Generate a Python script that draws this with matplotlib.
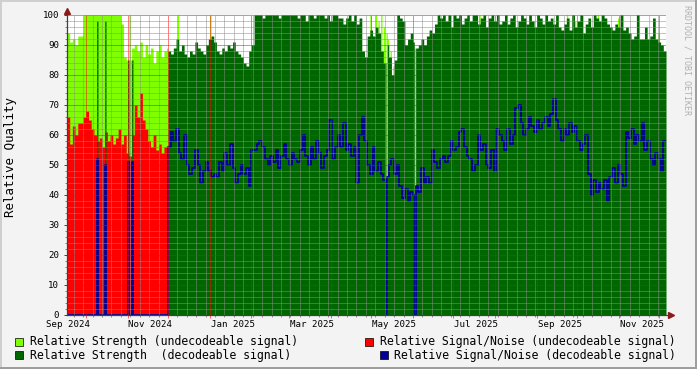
import numpy as np
import matplotlib
matplotlib.use("Agg")
import matplotlib.pyplot as plt
import matplotlib.dates as mdates
from matplotlib.ticker import MultipleLocator, NullFormatter
from matplotlib.patches import Rectangle
from matplotlib.lines import Line2D

plt.rcParams['font.family'] = ['DejaVu Sans Mono']

start = np.datetime64('2024-09-17')
n_days = 445
split = 75  # 2024-12-01, first day with decodeable signal

# two-day samples, 2024-09-17 .. 2024-11-30 (undecodeable period)
strength_undec = [94, 91, 92, 90, 93, 93,
                  100, 100, 100, 100, 100, 100, 100, 100, 100, 100, 100, 100, 100, 100,
                  97, 86, 85, 85, 89, 90, 88, 91, 86, 90, 87, 89, 84, 88, 90, 86, 88, 89]
snr_undec = [66, 57, 63, 60, 64, 64, 66, 68, 65, 62, 60, 58, 59, 56, 61, 58, 60, 57, 59,
             62, 57, 60, 54, 53, 60, 70, 66, 74, 65, 62, 58, 56, 60, 55, 57, 54, 56, 55]

# two-day samples, 2024-12-01 .. 2025-12-04 (decodeable period)
strength_dec = [88, 87, 89, 92, 88, 90, 87, 86, 88, 87, 91, 89, 88, 87, 90, 92, 93, 91, 88, 87,
                89, 88, 90, 89, 91, 88, 87, 86, 84, 83, 88, 90,
                100, 100, 100, 99, 100, 100, 100, 100, 100, 99, 100, 100, 100, 100, 100, 100,
                99, 100, 100, 98, 100, 100, 99, 100, 100, 100, 99, 100, 98, 100, 100, 99,
                99, 97, 99, 100, 98, 100, 97, 99, 88, 86, 93, 95, 93, 96, 94, 88, 84, 90, 86,
                80, 85, 100, 99, 98, 90, 92, 94, 91, 89, 90, 92, 90, 93, 95, 94,
                97, 100, 99, 100, 98, 100, 96, 100, 99, 100, 97, 99, 100, 98, 100, 100, 97,
                99, 100, 96, 99, 100, 98, 100, 97,
                98, 100, 97, 99, 100, 96, 98, 100, 99, 97, 100, 98, 96, 100, 99, 97, 100, 98,
                99, 97, 100, 96,
                95, 97, 99, 95, 100, 96, 98, 100, 94, 97, 99, 96, 100, 99, 98, 100, 99, 97,
                96, 95, 97, 96, 100, 95, 96, 94, 92, 93, 100, 92, 92, 96, 92, 93, 99, 92, 91,
                90, 88]
snr_dec = [56, 61, 58, 62, 54, 52, 60, 50, 47, 49, 55, 50, 44, 48, 51, 48, 46, 47, 46, 51,
           48, 54, 50, 57, 49, 44, 47, 50, 47, 49, 43, 55, 55, 57, 58,
           56, 52, 50, 53, 51, 55, 49, 53, 57, 52, 50, 54, 52, 51, 55, 60, 53, 50, 56, 52,
           58, 54, 49, 53, 55, 65, 52, 56, 60,
           56, 64, 55, 57, 53, 56, 44, 60, 66, 58, 50, 47, 56, 48, 51,
           47, 45, 46, 50, 52, 47, 50, 43, 39, 42, 38, 41, 40, 43, 41, 49, 44, 46, 44, 55,
           51, 49, 52, 53, 51, 53, 58, 55, 56, 61, 62, 56, 53, 52, 48, 50, 60, 55, 57, 50,
           49, 55, 48, 62, 60,
           58, 55, 62, 57, 60, 69, 70, 64, 60, 62, 66, 63, 61, 65, 62, 64, 66, 63, 67, 72,
           65, 62,
           58, 62, 60, 64, 61, 63, 58, 55, 57, 60, 47, 40, 45, 41, 44, 42, 45, 38, 46, 49,
           44, 50, 47, 43, 61, 59, 62, 57, 60, 58, 64, 55, 58, 52, 50, 54, 52, 48, 58]

# single days that differ from the two-day samples (day number from start)
strength_undec_days = {46: 100, 82: 100, 106: 100, 225: 100, 229: 100, 231: 98, 233: 100,
                       235: 96, 237: 94, 238: 92, 240: 88, 242: 83, 258: 89, 306: 100,
                       371: 100, 377: 98, 394: 100, 409: 99, 439: 94}
strength_dec_days = {22: 98, 28: 98, 45: 85, 48: 85, 237: 0, 258: 0}
snr_dec_days = {22: 52, 28: 50, 45: 51, 48: 51, 237: 0, 258: 0}

labels = ['Relative Strength (undecodeable signal)',
          'Relative Signal/Noise (undecodeable signal)',
          'Relative Strength  (decodeable signal)',
          'Relative Signal/Noise (decodeable signal)']
colors = ['#80ff00', '#ff0000', '#006600', '#000099']


def daily(first, second, extra):
    a = np.repeat(np.asarray(first, float), 2)[:split]
    b = np.repeat(np.asarray(second, float), 2)[:n_days - split]
    v = np.concatenate([a, b])
    for d, val in extra.items():
        v[d] = val
    return np.append(v, v[-1])


zeros_a = [0] * len(strength_undec)
zeros_b = [0] * len(strength_dec)
us = daily(strength_undec, zeros_b, strength_undec_days)
un = daily(snr_undec, zeros_b, {})
ds = daily(zeros_a, strength_dec, strength_dec_days)
dn = daily(zeros_a, snr_dec, snr_dec_days)

t = mdates.date2num(start + np.arange(n_days + 1).astype('timedelta64[D]'))

W, H = 697, 369
fig = plt.figure(figsize=(W / 100, H / 100), dpi=100, facecolor='#f3f3f3')


def fx(x):
    return x / W


def fy(y):
    return 1 - y / H


ax = fig.add_axes([fx(67), fy(315), fx(666) - fx(67), fy(15) - fy(315)])
ax.set_facecolor('white')

ax.fill_between(t, us, step='post', color=colors[0], lw=0, zorder=1)
ax.fill_between(t, un, step='post', color=colors[1], lw=0, zorder=1.1)
ax.fill_between(t, ds, step='post', color=colors[2], lw=0, zorder=1.2)
ax.plot(t, dn, drawstyle='steps-post', color=colors[3], lw=1.3, zorder=1.5)

ax.set_xlim(t[0], t[-1])
ax.set_ylim(0, 100)

ax.xaxis.set_major_locator(mdates.MonthLocator())
ax.xaxis.set_minor_locator(mdates.WeekdayLocator(byweekday=mdates.SU))
ax.xaxis.set_major_formatter(NullFormatter())
ax.yaxis.set_major_locator(MultipleLocator(10))
ax.yaxis.set_minor_locator(MultipleLocator(2))

ax.set_axisbelow(False)
ax.grid(which='major', color=(1, 0, 0, 0.28), lw=0.72, ls=(0, (1, 1)))
ax.grid(which='minor', color=(0.55, 0.55, 0.55, 0.45), lw=0.72, ls=(0, (1, 1)))

ax.tick_params(axis='y', which='major', length=2, width=0.7, color='#404040',
               labelsize=6.6, pad=3.5)
ax.tick_params(axis='y', which='minor', length=1.5, width=0.7, color='#808080')
ax.tick_params(axis='x', which='major', length=2.2, width=0.7, color='#ff6060')
ax.tick_params(axis='x', which='minor', length=1.5, width=0.7, color='#909090')

for s in ['top', 'right']:
    ax.spines[s].set_visible(False)
for s in ['left', 'bottom']:
    ax.spines[s].set_color('#404040')
    ax.spines[s].set_linewidth(0.9)
    ax.spines[s].set_zorder(3)

# axis extensions and arrows
ax.plot([0, 0], [1, 1 + 4 / 300], transform=ax.transAxes, clip_on=False,
        color='#404040', lw=0.72)
ax.plot([1, 1 + 5 / 599], [0, 0], transform=ax.transAxes, clip_on=False,
        color='#404040', lw=0.72)
ax.plot([0], [1 + 4 / 300], marker='^', ms=4.5, color='#8b1a1a',
        transform=ax.transAxes, clip_on=False)
ax.plot([1 + 5 / 599], [0], marker='>', ms=4.5, color='#8b1a1a',
        transform=ax.transAxes, clip_on=False)

# month labels centred inside the month, every second month
xtr = ax.get_xaxis_transform()
for m in np.arange(np.datetime64('2024-09'), np.datetime64('2025-12'), 2):
    d = m.astype('datetime64[D]') + np.timedelta64(17, 'D')
    lab = m.astype(object).strftime('%b %Y')
    ax.text(mdates.date2num(d), -5 / 300, lab, transform=xtr, ha='center', va='top',
            fontsize=6.6, clip_on=False)

fig.text(fx(11), fy(157), 'Relative Quality', rotation=90, ha='center', va='center',
         fontsize=9)

fig.text(fx(687), fy(60), 'RRDTOOL / TOBI OETIKER', rotation=270, ha='center',
         va='center', fontsize=6, color='#b0b0b0')

# legend
legend_pos = [(15, 30, 341.5), (365, 380, 341.5), (15, 30, 355), (379.5, 394.5, 355)]
for i, (bx, tx, cy) in enumerate(legend_pos):
    fig.add_artist(Rectangle((fx(bx), fy(cy + 4)), 8 / W, 8 / H, transform=fig.transFigure,
                             facecolor=colors[i], edgecolor='black', lw=0.5))
    fig.text(fx(tx), fy(cy), labels[i], ha='left', va='center', fontsize=8.3)

# frame shading
fig.add_artist(Line2D([0, 1], [1 - 1 / H, 1 - 1 / H], transform=fig.transFigure,
                      color='#cfcfcf', lw=1.44))
fig.add_artist(Line2D([1 / W, 1 / W], [0, 1], transform=fig.transFigure,
                      color='#cfcfcf', lw=1.44))
fig.add_artist(Line2D([0, 1], [1 / H, 1 / H], transform=fig.transFigure,
                      color='#9e9e9e', lw=1.44))
fig.add_artist(Line2D([1 - 1 / W, 1 - 1 / W], [0, 1], transform=fig.transFigure,
                      color='#9e9e9e', lw=1.44))

fig.savefig('out.png', dpi=100, facecolor=fig.get_facecolor())
